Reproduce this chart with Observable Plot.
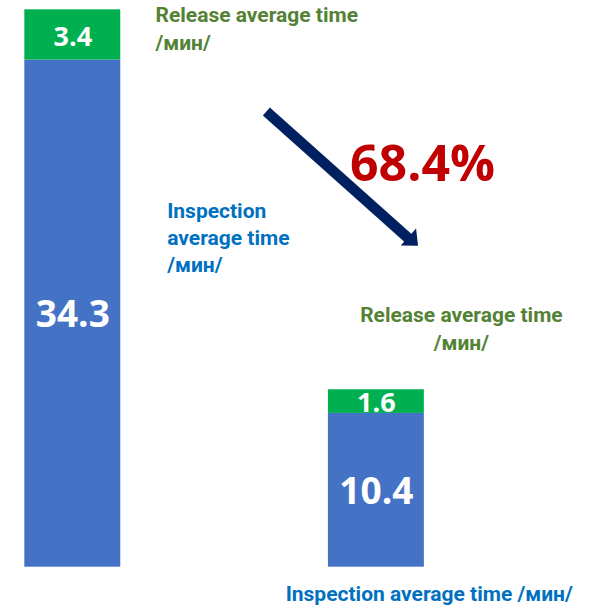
<!DOCTYPE html>
<html><head><meta charset="utf-8">
<script src="https://cdn.jsdelivr.net/npm/d3@7"></script>
<script src="https://cdn.jsdelivr.net/npm/@observablehq/plot@0.6"></script>
<style>html,body{margin:0;padding:0;background:#fff;}</style>
</head><body><div id="chart"></div>
<script>
// ---- data ----
const bars = [0, 1];
const inspection = [34.3, 10.4];
const release = [3.4, 1.6];
const seriesNames = ["Inspection", "Release"];
const inspectionLabel = "Inspection average time /мин/";
const releaseLabel = "Release average time /мин/";
const reduction = "68.4%";

// ---- derived table ----
const rows = [];
bars.forEach((b, i) => {
  let base = 0;
  [[seriesNames[0], inspection[i]], [seriesNames[1], release[i]]].forEach(([s, v]) => {
    rows.push({bar: b, series: s, value: v, y1: base, y2: base + v});
    base += v;
  });
});
const total = d3.max(bars, (b, i) => inspection[i] + release[i]);
const half = 0.158;

const arrowHead = {
  draw(ctx, size) {
    const r = Math.sqrt(size / Math.PI);
    ctx.moveTo(0, -r);
    ctx.lineTo(0.885 * r, 0);
    ctx.lineTo(-0.885 * r, 0);
    ctx.closePath();
  }
};

const labelFont = "Roboto";
const numFont = "Open Sans";
const green = "#548235", blue = "#0070C0";

const chart = Plot.plot({
  width: 595, height: 606,
  marginTop: 9.3, marginBottom: 39.3, marginLeft: 0, marginRight: 0,
  x: {domain: [-0.2381, 1.7217], axis: null},
  y: {domain: [0, total], axis: null},
  color: {domain: seriesNames, range: ["#4472C4", "#00B050"]},
  style: {background: "#fff", overflow: "visible"},
  marks: [
    Plot.rect(rows, {x1: d => d.bar - half, x2: d => d.bar + half, y1: "y1", y2: "y2", fill: "series"}),
    Plot.text(rows, {
      x: "bar", y: d => (d.y1 + d.y2) / 2, text: d => d.value.toFixed(1),
      fill: "white", fontSize: d => d.series === "Inspection" ? 37 : 27,
      fontWeight: 700, fontFamily: numFont, dy: 2
    }),
    // arrow
    Plot.link([{x1: 0.6376, y1: 30.82, x2: 1.108, y2: 22.2}], {
      x1: "x1", y1: "y1", x2: "x2", y2: "y2", stroke: "#002060", strokeWidth: 10.5
    }),
    Plot.dot([{x: 1.1054, y: 22.33}], {
      x: "x", y: "y", r: 13, symbol: arrowHead, fill: "#002060", stroke: "none", rotate: 132
    }),
    Plot.text([{x: 1.152, y: 26.15, t: reduction}], {
      x: "x", y: "y", text: "t", fill: "#C00000", fontSize: 50, fontWeight: 700,
      fontFamily: numFont, lineAnchor: "bottom"
    }),
    // series labels
    Plot.text([{x: 0.2724, y: 35.01, t: releaseLabel.replace(" /", "\n/")}], {
      x: "x", y: "y", text: "t", fill: green, fontSize: 21, fontWeight: 700,
      fontFamily: labelFont, textAnchor: "start", lineAnchor: "bottom", lineHeight: 1.31
    }),
    Plot.text([{x: 0.311, y: 19.95, t: inspectionLabel.replace("Inspection ", "Inspection\n").replace(" /", "\n/")}], {
      x: "x", y: "y", text: "t", fill: blue, fontSize: 21, fontWeight: 700,
      fontFamily: labelFont, textAnchor: "start", lineAnchor: "bottom", lineHeight: 1.29
    }),
    Plot.text([{x: 1.28, y: 14.72, t: releaseLabel.replace(" /", "\n/")}], {
      x: "x", y: "y", text: "t", fill: green, fontSize: 21, fontWeight: 700,
      fontFamily: labelFont, textAnchor: "middle", lineAnchor: "bottom", lineHeight: 1.3
    }),
    Plot.text([{x: 1.174, y: -2.30, t: inspectionLabel}], {
      x: "x", y: "y", text: "t", fill: blue, fontSize: 21, fontWeight: 700,
      fontFamily: labelFont, textAnchor: "middle", lineAnchor: "bottom"
    })
  ]
});
document.getElementById("chart").appendChild(chart);
</script>
</body></html>
